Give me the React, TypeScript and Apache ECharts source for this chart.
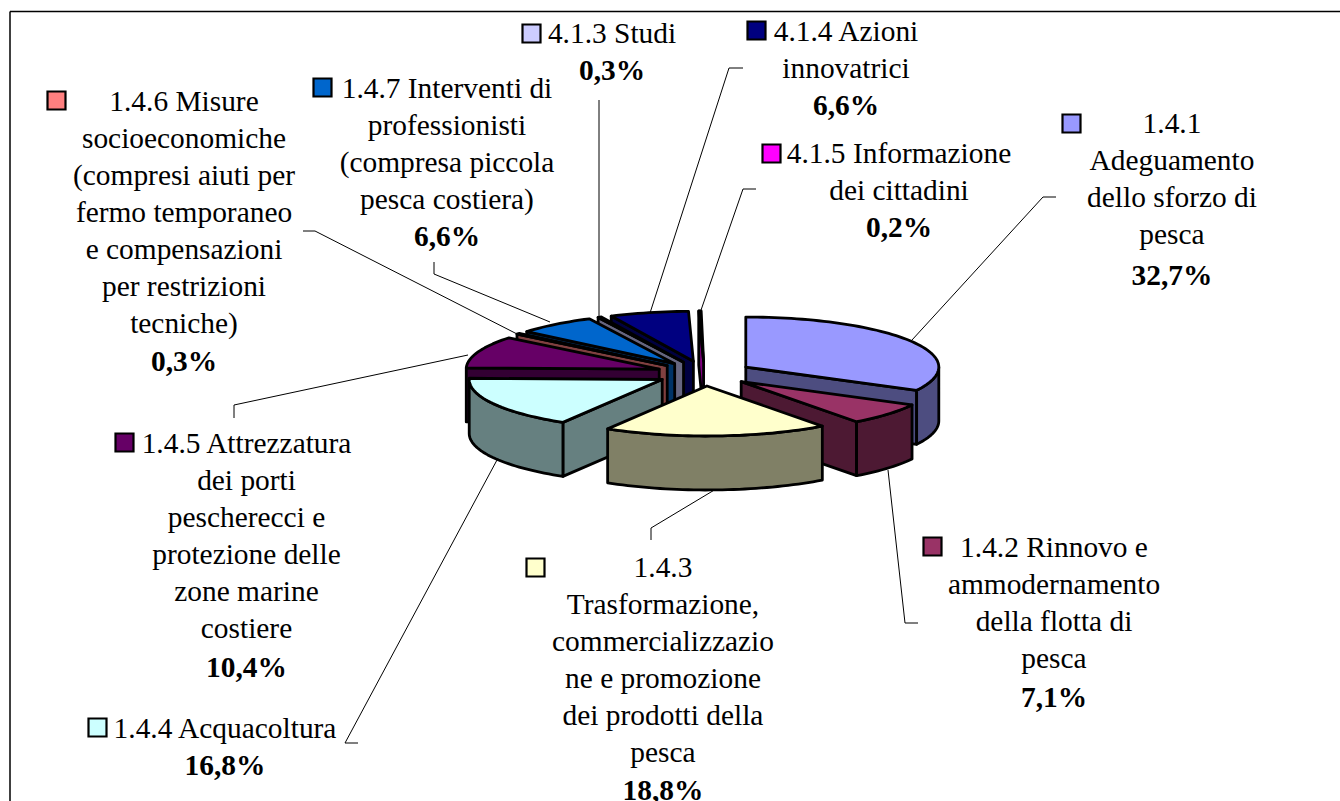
import React, { useEffect, useRef } from "react";
import * as echarts from "echarts";

const names = ["1.4.1 Adeguamento dello sforzo di pesca", "1.4.2 Rinnovo e ammodernamento della flotta di pesca", "1.4.3 Trasformazione, commercializzazione e promozione dei prodotti della pesca", "1.4.4 Acquacoltura", "1.4.5 Attrezzatura dei porti pescherecci e protezione delle zone marine costiere", "1.4.6 Misure socioeconomiche", "1.4.7 Interventi di professionisti", "4.1.3 Studi", "4.1.4 Azioni innovatrici", "4.1.5 Informazione dei cittadini"];
const values = [32.7, 7.1, 18.8, 16.8, 10.4, 0.3, 6.6, 0.3, 6.6, 0.2];
const percentLabels = ["32,7%", "7,1%", "18,8%", "16,8%", "10,4%", "0,3%", "6,6%", "0,3%", "6,6%", "0,2%"];
const topColors = ["#9999FF", "#993366", "#FFFFCC", "#CCFFFF", "#660066", "#FF8080", "#0066CC", "#CCCCFF", "#000080", "#FF00FF"];
const sideColors = ["#4D4D80", "#4D1933", "#808066", "#668080", "#330033", "#804040", "#003366", "#666680", "#000040", "#800080"];
const labelLines = [
  ["1.4.1", "Adeguamento", "dello sforzo di", "pesca"],
  ["1.4.2 Rinnovo e", "ammodernamento", "della flotta di", "pesca"],
  ["1.4.3", "Trasformazione,", "commercializzazio", "ne e promozione", "dei prodotti della", "pesca"],
  ["1.4.4 Acquacoltura"],
  ["1.4.5 Attrezzatura", "dei porti", "pescherecci e", "protezione delle", "zone marine", "costiere"],
  ["1.4.6 Misure", "socioeconomiche", "(compresi aiuti per", "fermo temporaneo", "e compensazioni", "per restrizioni", "tecniche)"],
  ["1.4.7 Interventi di", "professionisti", "(compresa piccola", "pesca costiera)"],
  ["4.1.3 Studi"],
  ["4.1.4 Azioni", "innovatrici"],
  ["4.1.5 Informazione", "dei cittadini"],
];

// layout only: where each label block sits and how its leader runs
const paintOrder = [9, 8, 7, 6, 5, 4, 0, 1, 3, 2];
const labelLayout = [
  { cx: 1172, y: 123, swatch: [1062, 114], pctY: 275 },
  { cx: 1054, y: 547, swatch: [923, 537], pctY: 697 },
  { cx: 663, y: 567, swatch: [526, 558], pctY: 790 },
  { cx: 225, y: 728, swatch: [88, 718], pctY: 765 },
  { cx: 246.5, y: 443, swatch: [115, 433], pctY: 667 },
  { cx: 184, y: 101, swatch: [47, 91], pctY: 361 },
  { cx: 447, y: 88, swatch: [313, 78], pctY: 236 },
  { cx: 612, y: 33, swatch: [522, 24], pctY: 70 },
  { cx: 846, y: 31, swatch: [747, 21], pctY: 105 },
  { cx: 899, y: 153, swatch: [762, 144], pctY: 227 },
];
const leaders = [
  [[1056, 197], [1043, 197], [912, 340]],
  [[918, 623], [905, 623], [888, 470]],
  [[651, 540], [651, 528], [716, 489]],
  [[358, 743], [345, 743], [497, 460]],
  [[234, 418], [234, 405], [468, 355]],
  [[303, 231], [315, 231], [519, 335]],
  [[434, 262], [434, 274], [550, 322]],
  [[599, 100], [599, 318]],
  [[743, 68], [729, 68], [650, 313]],
  [[756, 189], [743, 189], [700, 313]],
];

const PIE = { cx: 704.5, cy: 373.5, rx: 193, ry: 50, depth: 54, explode: 0.25 };
const FONT = '"Liberation Serif", "Times New Roman", serif';
const FONT_SIZE = 29.4;
const FULL_CIRCLE_PERCENT = 100;

function pt(c: number[], th: number): number[] {
  return [c[0] + PIE.rx * Math.sin(th), c[1] - PIE.ry * Math.cos(th)];
}
function arcD(c: number[], a: number, b: number, dy = 0): string {
  const steps = Math.max(2, Math.ceil(Math.abs(b - a) / 0.03));
  let d = "";
  for (let i = 0; i <= steps; i++) {
    const p = pt(c, a + ((b - a) * i) / steps);
    d += `L${p[0].toFixed(2)} ${(p[1] + dy).toFixed(2)}`;
  }
  return d;
}
function wall(c: number[], th: number): string {
  const p = pt(c, th);
  const h = PIE.depth;
  return `M${c[0]} ${c[1]}L${p[0]} ${p[1]}L${p[0]} ${p[1] + h}L${c[0]} ${c[1] + h}Z`;
}

function renderSlice(params: any, api: any) {
  const i = params.dataIndex;
  const before = values.slice(0, i).reduce((a, b) => a + b, 0);
  const a0 = (before / FULL_CIRCLE_PERCENT) * 2 * Math.PI;
  const a1 = ((before + api.value(0)) / FULL_CIRCLE_PERCENT) * 2 * Math.PI;
  const mid = (a0 + a1) / 2;
  const c = [PIE.cx + PIE.explode * PIE.rx * Math.sin(mid), PIE.cy - PIE.explode * PIE.ry * Math.cos(mid)];
  const z = paintOrder.indexOf(i) * 10 + 10;
  const line = { stroke: "#000", lineWidth: 2.8, lineJoin: "round" };
  const children: any[] = [];
  const add = (d: string, fill: string, zz: number) =>
    children.push({ type: "path", z2: zz, shape: { pathData: d }, style: { fill, ...line } });
  if (Math.sin(a0) < 0) add(wall(c, a0), sideColors[i], z);
  if (Math.sin(a1) > 0) add(wall(c, a1), sideColors[i], z + 1);
  const r0 = Math.max(a0, Math.PI / 2);
  const r1 = Math.min(a1, (3 * Math.PI) / 2);
  if (r1 > r0) {
    const top = arcD(c, r0, r1).replace(/^L/, "M");
    const bottom = arcD(c, r1, r0, PIE.depth);
    add(`${top}${bottom}Z`, sideColors[i], z + 2);
  }
  add(`M${c[0]} ${c[1]}${arcD(c, a0, a1)}Z`, topColors[i], z + 3);
  return { type: "group", children };
}

function buildGraphics() {
  const els: any[] = [
    { type: "line", silent: true, shape: { x1: 10, y1: 11.5, x2: 1340, y2: 11.5 }, style: { stroke: "#000", lineWidth: 1.5 } },
    { type: "line", silent: true, shape: { x1: 10, y1: 11.5, x2: 10, y2: 801 }, style: { stroke: "#000", lineWidth: 1.5 } },
  ];
  leaders.forEach((pts) => {
    els.push({ type: "polyline", silent: true, shape: { points: pts }, style: { stroke: "#000", lineWidth: 1, fill: "none" } });
  });
  labelLines.forEach((lines, i) => {
    const L = labelLayout[i];
    els.push({ type: "rect", silent: true, shape: { x: L.swatch[0] + 0.5, y: L.swatch[1] + 0.5, width: 18, height: 18 }, style: { fill: topColors[i], stroke: "#000", lineWidth: 2.2 } });
    lines.forEach((t, k) => {
      els.push({
        type: "text", silent: true, x: L.cx, y: L.y + k * 37,
        style: { text: t, font: `${FONT_SIZE}px ${FONT}`, fill: "#000", textAlign: "center", textVerticalAlign: "middle" },
      });
    });
    els.push({
      type: "text", silent: true, x: L.cx, y: L.pctY,
      style: { text: percentLabels[i], font: `bold ${FONT_SIZE}px ${FONT}`, fill: "#000", textAlign: "center", textVerticalAlign: "middle" },
    });
  });
  return els;
}

export default function App() {
  const ref = useRef<HTMLDivElement>(null);
  useEffect(() => {
    document.body.style.margin = "0";
    const chart = echarts.init(ref.current!, undefined, { renderer: "svg" });
    chart.setOption({
      animation: false,
      backgroundColor: "#fff",
      series: [{
        type: "custom",
        coordinateSystem: "none",
        renderItem: renderSlice,
        data: values.map((v, i) => ({ name: names[i], value: [v] })),
        silent: true,
      }],
      graphic: { elements: buildGraphics() },
    });
    return () => chart.dispose();
  }, []);
  return <div ref={ref} style={{ width: 1340, height: 801, overflow: "hidden" }} />;
}
